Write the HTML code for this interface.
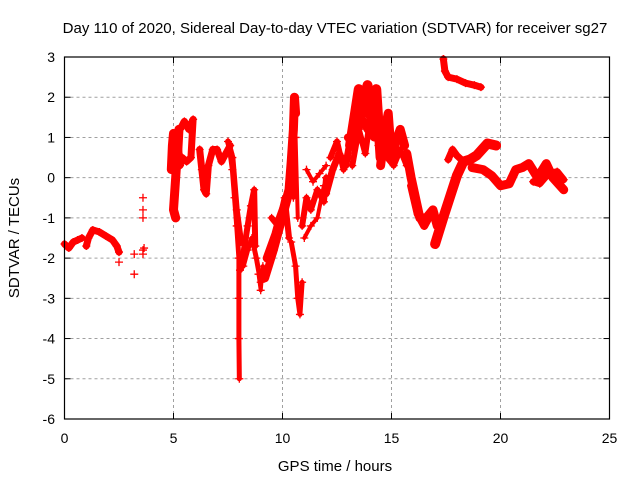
<!DOCTYPE html>
<html><head><meta charset="utf-8"><style>
body{margin:0;background:#fff}
svg{display:block;font-family:"Liberation Sans",sans-serif}
</style></head><body>
<svg id="chart" width="640" height="480" viewBox="0 0 640 480">
<text x="335" y="33" text-anchor="middle" font-size="15">Day 110 of 2020, Sidereal Day-to-day VTEC variation (SDTVAR) for receiver sg27</text>
<text x="335" y="471" text-anchor="middle" font-size="15">GPS time / hours</text>
<text transform="translate(19,238) rotate(-90)" text-anchor="middle" font-size="15">SDTVAR / TECUs</text>
<g id="grid"></g>
<g id="marks"></g>
<rect x="64.5" y="57" width="545" height="362" fill="none" stroke="#000" stroke-width="1.2"/>
<g id="ticks"></g>
</svg>
<script>
const xTicks=[0,5,10,15,20,25];
const yTicks=[3,2,1,0,-1,-2,-3,-4,-5,-6];
// tracks: time (h) and SDTVAR values
const tA=[0,0.2,0.4,0.6,0.8];
const vA=[-1.65,-1.75,-1.6,-1.55,-1.5];
const tB=[1.0,1.1,1.3,1.6,1.9,2.2,2.4,2.5];
const vB=[-1.7,-1.5,-1.3,-1.35,-1.45,-1.55,-1.7,-1.85];
const tS=[2.5,3.2,3.2,3.6,3.6,3.6,3.6,3.6,3.65];
const vS=[-2.1,-1.9,-2.4,-1.8,-1.0,-0.5,-0.8,-1.9,-1.75];
const tC=[4.9,4.95,5.0,5.05,5.1,5.15,5.2,5.25,5.1,5.05,5.0,5.1];
const vC=[0.2,0.8,1.1,1.0,0.6,0.3,0.7,1.2,0.0,-0.4,-0.8,-1.0];
const tC3=[4.95,5.05,5.15,5.25];
const vC3=[0.5,0.2,0.9,0.4];
const tC2=[5.3,5.5,5.7,5.9,5.8,5.6,5.4,5.3];
const vC2=[1.2,1.4,1.2,1.45,0.5,0.4,0.5,0.3];
const tD=[6.2,6.3,6.4,6.5,6.6,6.8,7.0,7.2,7.4,7.6];
const vD=[0.7,0.2,-0.3,-0.4,0.3,0.7,0.7,0.4,0.6,0.8];
const tE=[7.6,7.7,7.8,7.9,8.0,8.0,8.0,8.02];
const vE=[0.6,0.2,-0.5,-1.2,-2.0,-3.0,-4.0,-5.0];
const tE2=[7.5,7.7,7.9,8.1];
const vE2=[0.9,0.5,-0.8,-1.6];
const tF=[8.05,8.2,8.4,8.55,8.7,8.75];
const vF=[-2.3,-1.9,-1.2,-0.7,-0.3,-1.7];
const tF2=[8.2,8.4,8.6,8.8,9.0];
const vF2=[-2.2,-1.8,-1.5,-2.0,-2.6];
const tG=[8.9,9.0,9.1];
const vG=[-2.4,-2.8,-2.2];
const tH=[9.3,9.5,9.7,9.9,10.1,10.3,10.4,10.5,10.55,10.6];
const vH=[-2.0,-1.7,-1.4,-1.0,-0.7,-0.3,0.4,1.2,2.0,1.6];
const tH2=[9.2,9.6,10.0,10.4];
const vH2=[-2.5,-1.8,-1.0,-0.2];
const tH3=[9.5,9.8,10.1,10.3];
const vH3=[-1.0,-1.2,-0.5,-1.5];
const tI=[10.4,10.6,10.7,10.8,10.9];
const vI=[-1.6,-2.2,-3.0,-3.4,-2.6];
const tI2=[10.5,10.6,10.7];
const vI2=[-0.5,1.0,-1.0];
const tJ=[10.9,11.1,11.3,11.6,11.9,12.0];
const vJ=[-1.2,-0.5,-0.8,-0.3,-0.6,0.0];
const tJ2=[11.0,11.3,11.6,11.9];
const vJ2=[-1.5,-1.2,-1.0,-0.2];
const tJ3=[11.1,11.4,11.7,12.0];
const vJ3=[0.2,-0.1,0.1,0.3];
const tK=[12.0,12.3,12.6,12.9,13.1];
const vK=[-0.4,0.2,0.6,0.3,0.9];
const tK2=[12.2,12.5,12.8,13.0];
const vK2=[0.5,0.9,0.2,0.5];
const tL=[13.1,13.3,13.5,13.7,13.9,14.1,14.3,14.5];
const vL=[0.8,1.5,2.2,1.6,2.3,1.3,2.2,0.5];
const tL2=[13.0,13.3,13.6,13.9,14.2,14.5];
const vL2=[1.0,0.8,1.5,1.2,1.0,1.3];
const tL3=[13.2,13.5,13.8,14.1,14.4];
const vL3=[0.3,1.2,0.6,1.8,0.8];
const tM=[14.5,14.7,14.85,15.0,15.2,15.4,15.6];
const vM=[0.3,1.2,1.6,0.5,0.9,1.2,0.8];
const tM2=[14.5,14.8,15.1,15.4,15.7];
const vM2=[0.8,0.5,0.3,0.7,0.3];
const tN=[15.7,15.9,16.1,16.3,16.6,16.9,17.1];
const vN=[0.6,0.0,-0.5,-1.0,-1.0,-0.8,-1.2];
const tN2=[15.9,16.2,16.5,16.8,17.0];
const vN2=[-0.2,-0.9,-1.2,-0.9,-1.0];
const tO=[17.0,17.4,17.7,18.0,18.3,18.6,18.9,19.4,19.8];
const vO=[-1.65,-0.95,-0.45,0.05,0.4,0.45,0.55,0.85,0.8];
const tO2=[17.6,17.8,18.0,18.3];
const vO2=[0.45,0.7,0.55,0.4];
const tP=[17.38,17.45,17.6,18.0,18.4,18.8,19.1];
const vP=[2.95,2.65,2.5,2.45,2.35,2.3,2.25];
const tQ=[18.7,19.2,19.6,20.0,20.4,20.7,21.0,21.3,21.7,22.1,22.4,22.9];
const vQ=[0.25,0.2,0.05,-0.2,-0.15,0.2,0.25,0.35,0.0,0.35,0.0,-0.3];
const tQ2=[21.5,21.8,22.2,22.6,22.9];
const vQ2=[-0.1,-0.15,0.1,0.15,-0.05];
const tracks=[[tA,vA,7],[tB,vB,7],[tS,vS,0],[tC,vC,9],[tC3,vC3,9],[tC2,vC2,7],[tD,vD,7],[tE,vE,5],[tE2,vE2,6],[tF,vF,6],[tF2,vF2,5],[tG,vG,4],[tH,vH,9],[tH2,vH2,8],[tH3,vH3,6],[tI,vI,5],[tI2,vI2,4],[tJ,vJ,6],[tJ2,vJ2,4],[tJ3,vJ3,4],[tK,vK,7],[tK2,vK2,6],[tL,vL,10],[tL2,vL2,8],[tL3,vL3,6],[tM,vM,9],[tM2,vM2,6],[tN,vN,9],[tN2,vN2,8],[tO,vO,10],[tO2,vO2,7],[tP,vP,7],[tQ,vQ,9],[tQ2,vQ2,7]];
const X0=64.5,PX=21.8,Y0=57,PY=40.222;
const xs=t=>X0+t*PX, ys=v=>Y0+(3-v)*PY;
const NS='http://www.w3.org/2000/svg';
const grid=document.getElementById('grid'),ticks=document.getElementById('ticks'),marks=document.getElementById('marks');
function mk(tag,a,p){const e=document.createElementNS(NS,tag);for(const k in a)e.setAttribute(k,a[k]);p.appendChild(e);return e;}
xTicks.forEach(t=>{const x=xs(t);
 if(t>0&&t<25){const g=mk('line',{x1:x,x2:x,y1:57,y2:419,stroke:'#a0a0a0','stroke-dasharray':'3,3'},grid);
 
 }
 mk('line',{x1:x,x2:x,y1:419,y2:413,stroke:'#000'},ticks);mk('line',{x1:x,x2:x,y1:57,y2:63,stroke:'#000'},ticks);
 const l=mk('text',{x:x,y:443,'text-anchor':'middle','font-size':14},ticks);l.textContent=t;
 
 });
yTicks.forEach(v=>{const y=ys(v);
 if(v<3&&v>-6){const g=mk('line',{x1:64.5,x2:609.5,y1:y,y2:y,stroke:'#a0a0a0','stroke-dasharray':'3,3'},grid);
 
 }
 mk('line',{x1:64.5,x2:70.5,y1:y,y2:y,stroke:'#000'},ticks);mk('line',{x1:603.5,x2:609.5,y1:y,y2:y,stroke:'#000'},ticks);
 const l=mk('text',{x:55,y:y+5,'text-anchor':'end','font-size':14},ticks);l.textContent=v;
 
 });
tracks.forEach(([T,V,w])=>{
 if(w>0){const pts=T.map((t,i)=>xs(t)+','+ys(V[i])).join(' ');
 const pl=mk('polyline',{points:pts,fill:'none',stroke:'#f00','stroke-width':w,'stroke-linejoin':'round','stroke-linecap':'round'},marks);
 
 }
 T.forEach((t,i)=>{const x=xs(t),y=ys(V[i]);
 const p=mk('path',{d:`M${x-4},${y}h8M${x},${y-4}v8`,stroke:'#f00','stroke-width':1.3},marks);
 
 });
});
</script>
</body></html>
